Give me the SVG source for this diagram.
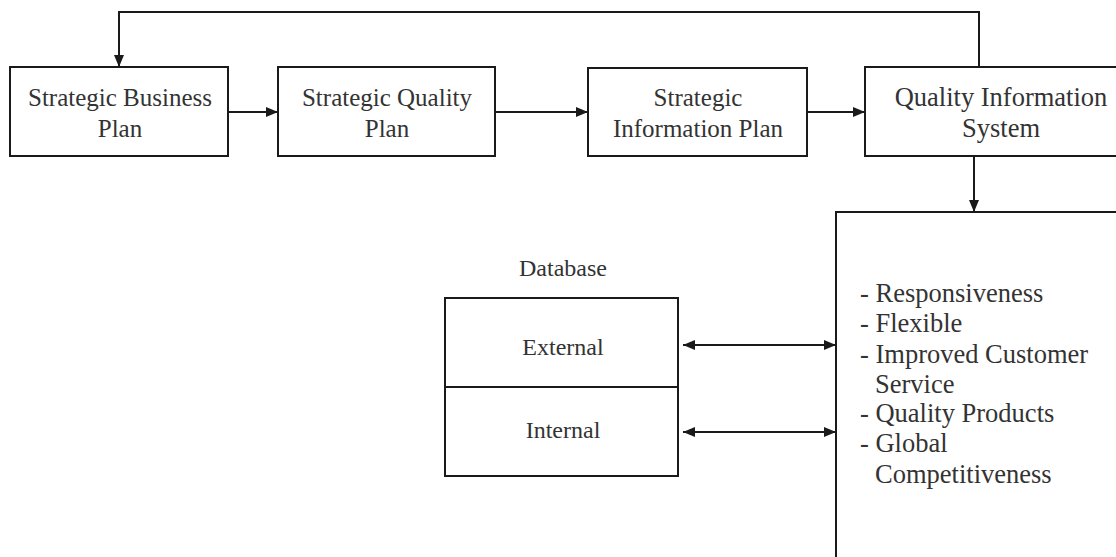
<svg xmlns="http://www.w3.org/2000/svg" width="1116" height="557" viewBox="0 0 1116 557">
<defs>
<marker id="ah" viewBox="0 0 12 10" refX="12" refY="5" markerWidth="12" markerHeight="10" markerUnits="userSpaceOnUse" orient="auto-start-reverse">
<path d="M0,0 L12,5 L0,10 Z" fill="#1a1a1a"/>
</marker>
</defs>
<style>
.box{fill:#ffffff;stroke:#1a1a1a;stroke-width:2}
.ln{fill:none;stroke:#1a1a1a;stroke-width:2}
text{font-family:"Liberation Serif","Times New Roman",serif;fill:#333333}
.t25{font-size:25px;text-anchor:middle}
.t27{font-size:26.5px;text-anchor:middle}
.t24{font-size:24px;text-anchor:middle}
.lst{font-size:26.5px}
</style>
<rect width="1116" height="557" fill="#ffffff"/>
<g id="connectors">
<polyline class="ln" points="979,67 979,12 119,12 119,67" marker-end="url(#ah)"/>
<line class="ln" x1="228" y1="112" x2="278" y2="112" marker-end="url(#ah)"/>
<line class="ln" x1="495" y1="112" x2="588" y2="112" marker-end="url(#ah)"/>
<line class="ln" x1="807" y1="112" x2="865" y2="112" marker-end="url(#ah)"/>
<line class="ln" x1="974" y1="156" x2="974" y2="212" marker-end="url(#ah)"/>
<line class="ln" x1="683" y1="345" x2="836" y2="345" marker-start="url(#ah)" marker-end="url(#ah)"/>
<line class="ln" x1="683" y1="432" x2="836" y2="432" marker-start="url(#ah)" marker-end="url(#ah)"/>
</g>
<g id="strategic-business-plan">
<rect class="box" x="10" y="67" width="218" height="89"/>
<text class="t25" x="120" y="106">Strategic Business</text>
<text class="t25" x="120" y="137">Plan</text>
</g>
<g id="strategic-quality-plan">
<rect class="box" x="278" y="67" width="217" height="89"/>
<text class="t25" x="387" y="106">Strategic Quality</text>
<text class="t25" x="387" y="137">Plan</text>
</g>
<g id="strategic-information-plan">
<rect class="box" x="588" y="68" width="219" height="88"/>
<text class="t25" x="698" y="106">Strategic</text>
<text class="t25" x="698" y="137">Information Plan</text>
</g>
<g id="quality-information-system">
<rect class="box" x="865" y="67" width="260" height="89"/>
<text class="t27" x="1001" y="106">Quality Information</text>
<text class="t27" x="1001" y="137">System</text>
</g>
<g id="database">
<text class="t24" x="563" y="276">Database</text>
<rect class="box" x="445" y="298" width="233" height="178"/>
<line class="ln" x1="445" y1="387" x2="678" y2="387"/>
<text class="t24" x="563" y="355">External</text>
<text class="t24" x="563" y="438">Internal</text>
</g>
<g id="benefits">
<rect class="box" x="836" y="212" width="290" height="360"/>
<text class="lst" x="860" y="302">- Responsiveness</text>
<text class="lst" x="860" y="332">- Flexible</text>
<text class="lst" x="860" y="363">- Improved Customer</text>
<text class="lst" x="875" y="393">Service</text>
<text class="lst" x="860" y="422">- Quality Products</text>
<text class="lst" x="860" y="452">- Global</text>
<text class="lst" x="875" y="483">Competitiveness</text>
</g>
</svg>
